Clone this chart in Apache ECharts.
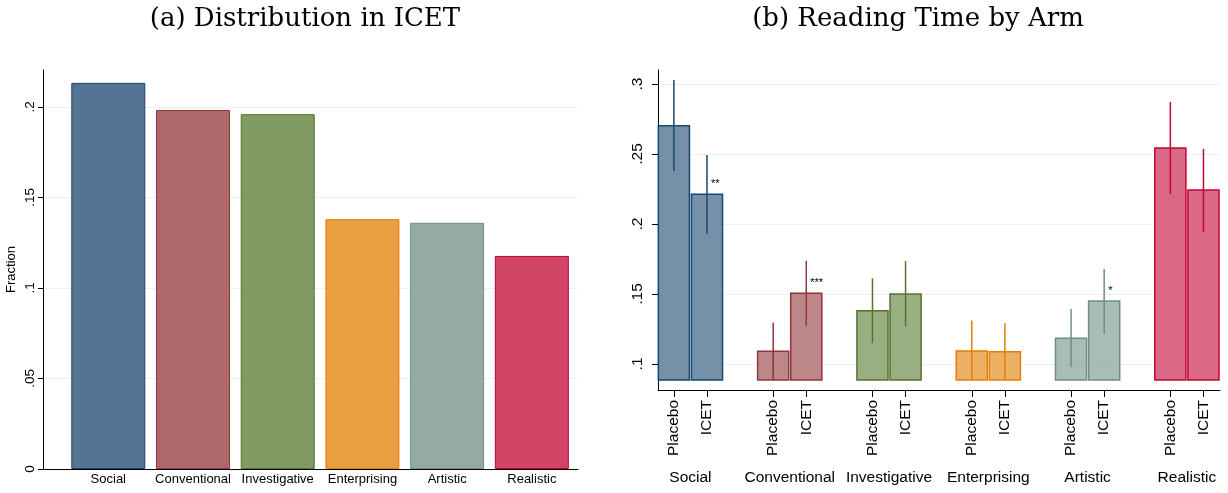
<!DOCTYPE html>
<html>
<head>
<meta charset="utf-8">
<script src="https://cdn.jsdelivr.net/npm/echarts@6/dist/echarts.min.js"></script>
<style>
html, body { margin: 0; padding: 0; background: #fff; }
#chart { width: 1228px; height: 493px; }
</style>
</head>
<body>
<div id="chart"></div>
<script>
// panel (a): share of each career type
var careers = ["Social", "Conventional", "Investigative", "Enterprising", "Artistic", "Realistic"];
var fraction = [0.2133, 0.1983, 0.1960, 0.1380, 0.1360, 0.1177];
var fracTicks = [0, 0.05, 0.1, 0.15, 0.2];
var fracTickLabels = ["0", ".05", ".1", ".15", ".2"];

// panel (b): reading time by arm, [placebo, icet] per career
var arms = ["Placebo", "ICET"];
var readMean = [[0.2702, 0.2212], [0.1091, 0.1505], [0.1381, 0.1500], [0.1093, 0.1088], [0.1183, 0.1450], [0.2543, 0.2243]];
var readLo = [[0.2379, 0.1931], [0.0887, 0.1274], [0.1148, 0.1267], [0.0876, 0.0885], [0.0976, 0.1214], [0.2214, 0.1943]];
var readHi = [[0.3029, 0.2493], [0.1295, 0.1738], [0.1612, 0.1736], [0.1310, 0.1291], [0.1393, 0.1679], [0.2871, 0.2536]];
var stars = [["", "**"], ["", "***"], ["", ""], ["", ""], ["", "*"], ["", ""]];
var readTicks = [0.1, 0.15, 0.2, 0.25, 0.3];
var readTickLabels = [".1", ".15", ".2", ".25", ".3"];
var barBase = 0.0886;

var fills = ["#537593", "#ac686b", "#7f9a62", "#e99e3f", "#93aba3", "#d24466"];
var edges = ["#1a476f", "#90353b", "#55752f", "#e37e00", "#6e8e84", "#c10534"];

function pick(vals, labels) {
  return function (v) {
    for (var i = 0; i < vals.length; i++) {
      if (Math.abs(vals[i] - v) < 1e-6) return labels[i];
    }
    return "";
  };
}

// left bars
var fracData = careers.map(function (c, i) {
  return { value: [i, fraction[i]], itemStyle: { color: fills[i], borderColor: edges[i] } };
});

// right bars: x = 3*group + arm
var rows = [];
var armPos = [];
var groupPos = [];
var readData = [];
careers.forEach(function (c, g) {
  groupPos.push(3 * g + 0.5);
  arms.forEach(function (a, k) {
    armPos.push(3 * g + k);
    rows.push({ g: g, star: stars[g][k] });
    readData.push([3 * g + k, readMean[g][k], readLo[g][k], readHi[g][k]]);
  });
});
var armLabels = armPos.map(function (p, i) { return arms[i % 2]; });

var chart = echarts.init(document.getElementById("chart"));

var titleStyle = { fontFamily: "DejaVu Serif", fontWeight: "normal", fontSize: 26, color: "#000" };

var option = {
  animation: false,
  title: [
    { text: "(a) Distribution in ICET", left: 300, top: 1, textAlign: "center", textStyle: titleStyle },
    { text: "(b) Reading Time by Arm", left: 913, top: 1, textAlign: "center", textStyle: titleStyle }
  ],
  grid: [
    { left: 43, right: 650, top: 70, bottom: 24, outerBoundsMode: "none" },
    { left: 658, right: 8, top: 70, bottom: 103, outerBoundsMode: "none" }
  ],
  xAxis: [
    {
      gridIndex: 0, type: "value", min: -0.771, max: 5.545, position: "bottom",
      axisLine: { onZero: false, lineStyle: { color: "#000", width: 1 } },
      axisTick: { show: false },
      splitLine: { show: false },
      axisLabel: {
        customValues: careers.map(function (c, i) { return i; }),
        formatter: function (v) { return careers[Math.round(v)]; },
        color: "#000", fontFamily: "Liberation Sans", fontSize: 13, margin: 4
      }
    },
    {
      gridIndex: 1, type: "value", min: -0.48, max: 16.5, position: "bottom",
      axisLine: { onZero: false, lineStyle: { color: "#000", width: 1 } },
      axisTick: { customValues: armPos, length: 7, lineStyle: { color: "#000" } },
      splitLine: { show: false },
      axisLabel: {
        customValues: armPos, formatter: pick(armPos, armLabels), rotate: 90,
        color: "#000", fontFamily: "Liberation Sans", fontSize: 15.5, margin: 10
      }
    },
    {
      gridIndex: 1, type: "value", min: -0.48, max: 16.5, position: "bottom",
      axisLine: { show: false, onZero: false }, axisTick: { show: false }, splitLine: { show: false },
      axisLabel: {
        customValues: groupPos, formatter: pick(groupPos, careers),
        color: "#000", fontFamily: "Liberation Sans", fontSize: 15.5, margin: 80
      }
    }
  ],
  yAxis: [
    {
      gridIndex: 0, type: "value", min: 0, max: 0.2204,
      name: "Fraction", nameLocation: "middle", nameGap: 25, nameRotate: 90,
      nameTextStyle: { color: "#000", fontFamily: "Liberation Sans", fontSize: 13 },
      axisLine: { show: true, onZero: false, lineStyle: { color: "#000", width: 1 } },
      axisTick: { show: true, customValues: fracTicks, length: 5, lineStyle: { color: "#000" } },
      splitLine: { show: true, lineStyle: { color: "#eaf2f3", width: 1 } },
      axisLabel: {
        customValues: fracTicks, formatter: pick(fracTicks, fracTickLabels), rotate: 90,
        color: "#000", fontFamily: "Liberation Sans", fontSize: 13.5, margin: 6
      }
    },
    {
      gridIndex: 1, type: "value", min: 0.0814, max: 0.31,
      axisLine: { show: true, onZero: false, lineStyle: { color: "#000", width: 1 } },
      axisTick: { show: true, customValues: readTicks, length: 6, lineStyle: { color: "#000" } },
      splitLine: { show: true, lineStyle: { color: "#eaf2f3", width: 1 } },
      axisLabel: {
        customValues: readTicks, formatter: pick(readTicks, readTickLabels), rotate: 90,
        color: "#000", fontFamily: "Liberation Sans", fontSize: 15.5, margin: 12
      }
    }
  ],
  series: [
    {
      type: "bar", xAxisIndex: 0, yAxisIndex: 0,
      barWidth: 74, data: fracData,
      itemStyle: { borderWidth: 1 }
    },
    {
      type: "custom", xAxisIndex: 1, yAxisIndex: 1,
      data: readData,
      renderItem: function (params, api) {
        var x = api.value(0), v = api.value(1), lo = api.value(2), hi = api.value(3);
        var row = rows[params.dataIndex];
        var g = row.g;
        var w = api.size([1, 0])[0] * 0.94;
        var top = api.coord([x, v]);
        var bot = api.coord([x, barBase]);
        var eTop = api.coord([x, hi]);
        var eBot = api.coord([x, Math.max(lo, barBase)]);
        var kids = [
          {
            type: "rect",
            shape: { x: top[0] - w / 2, y: top[1], width: w, height: bot[1] - top[1] },
            style: { fill: echarts.color.modifyAlpha(fills[g], 0.8), stroke: edges[g], lineWidth: 1.5 }
          },
          {
            type: "line",
            shape: { x1: eTop[0], y1: eTop[1], x2: eBot[0], y2: eBot[1] },
            style: { stroke: edges[g], lineWidth: 1.5 }
          }
        ];
        if (row.star) {
          kids.push({
            type: "text",
            style: {
              text: row.star, x: top[0] + 4, y: top[1] - 10,
              fill: "#000", fontSize: 11, fontFamily: "Liberation Sans",
              align: "left", verticalAlign: "middle"
            }
          });
        }
        return { type: "group", children: kids };
      }
    }
  ]
};

chart.setOption(option);
</script>
</body>
</html>
